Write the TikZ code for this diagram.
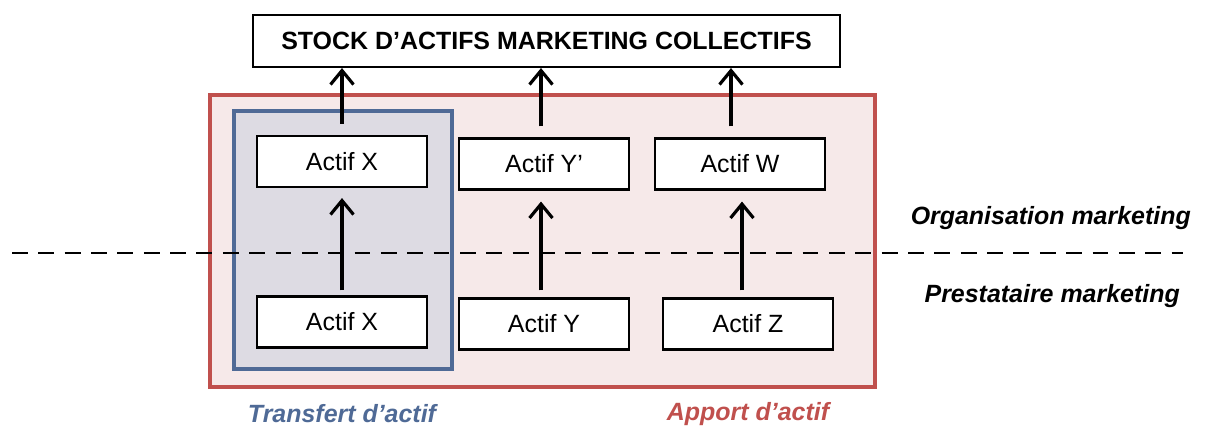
\documentclass[tikz,border=0pt]{standalone}
\usepackage{fontspec}
\setmainfont{Liberation Sans}
\usepackage{tikz}
\usetikzlibrary{arrows.meta}
\usepackage{xcolor}

\definecolor{rouge}{HTML}{C0504D}
\definecolor{rose}{HTML}{F6E9E9}
\definecolor{bleu}{HTML}{4F6A96}
\definecolor{gris}{HTML}{DDDBE3}

\tikzset{
  actif/.style={draw, fill=white, line width=1.2pt, minimum width=3.4cm, minimum height=1.02cm, font=\fontsize{14.2}{16}\selectfont},
  fleche/.style={-{Straight Barb[length=2.8mm,width=4.6mm]}, line width=1.8pt},
  zone/.style={font=\fontsize{14.2}{16}\selectfont\bfseries\itshape}
}

\begin{document}
\begin{tikzpicture}[x=0.02cm,y=-0.02cm]
\useasboundingbox (0,0) rectangle (1210,427);

% cadres
\draw[rouge, fill=rose, line width=2.2pt] (210,95) rectangle (875,387);
\draw[bleu, fill=gris, line width=2.2pt] (234,111) rectangle (452,369);

% stock
\node[draw, line width=1.2pt, minimum width=11.74cm, minimum height=1.04cm, font=\fontsize{14.2}{16}\selectfont\bfseries] (stock) at (546.5,41) {STOCK D’ACTIFS MARKETING COLLECTIFS};

% actifs organisation
\node[actif] (xh) at (342,161.5) {Actif X};
\node[actif] (yh) at (544,164) {Actif Y’};
\node[actif] (wh) at (740,164) {Actif W};

% actifs prestataire
\node[actif] (xb) at (342,322) {Actif X};
\node[actif] (yb) at (544,324) {Actif Y};
\node[actif] (zb) at (748,324) {Actif Z};

% frontiere
\draw[line width=1.2pt, dash pattern=on 9pt off 6pt] (12,253) -- (1183,253);
\node[zone, anchor=east] (orga) at (1197,218) {Organisation marketing};
\node[zone, anchor=east] (presta) at (1186,296) {Prestataire marketing};

% fleches
\draw[fleche] ([yshift=0.22cm]xh.north -| 342,0) -- (stock.south -| 342,0);
\draw[fleche] ([yshift=0.22cm]yh.north -| 541,0) -- (stock.south -| 541,0);
\draw[fleche] ([yshift=0.22cm]wh.north -| 731,0) -- (stock.south -| 731,0);
\draw[fleche] ([yshift=0.1cm]xb.north -| 342,0) -- ([yshift=-0.2cm]xh.south -| 342,0);
\draw[fleche] ([yshift=0.14cm]yb.north -| 541,0) -- ([yshift=-0.22cm]yh.south -| 541,0);
\draw[fleche] ([yshift=0.14cm]zb.north -| 742,0) -- ([yshift=-0.22cm]wh.south -| 742,0);

\node[zone, bleu] (transfert) at (342,414) {Transfert d’actif};
\node[zone, rouge] (apport) at (748,414) {Apport d’actif};
\end{tikzpicture}
\end{document}
